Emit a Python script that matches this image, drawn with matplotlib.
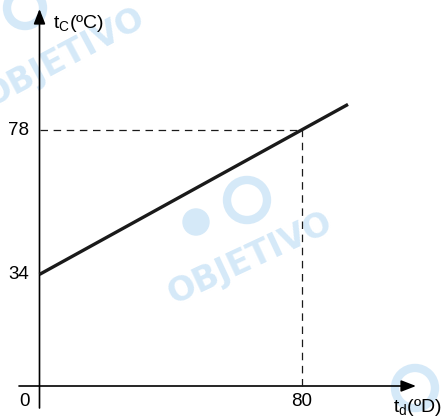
import matplotlib
matplotlib.use("Agg")
import matplotlib.pyplot as plt
from matplotlib.patches import Circle

plt.rcParams['font.family'] = ['Liberation Sans', 'DejaVu Sans']
plt.rcParams['mathtext.fontset'] = 'custom'
plt.rcParams['mathtext.rm'] = 'Liberation Sans'

# data
td_line = [0, 80, 94.2]
tc_line = [34, 78, 85.8]
mark_td = 80
mark_tc = 78
y_labels = [34, 78]
x_labels = [80]

W, H = 447, 417
fig = plt.figure(figsize=(W / 100, H / 100), dpi=100)
ax = fig.add_axes([0, 0, 1, 1])

# pixel -> data mapping (origin at px 39.5, 386)
sx, sy = 3.275, 3.282
ox, oy = 39.5, 386
ax.set_xlim(-ox / sx, (W - ox) / sx)
ax.set_ylim((oy - H) / sy, oy / sy)
ax.axis('off')

def px(x, y):
    return ((x - ox) / sx, (oy - y) / sy)

# watermark (light blue, behind everything)
wm = '#d5e9f8'
for (cx, cy, rot) in [(250, 258, 25), (64, 58, 28)]:
    ax.text(*px(cx, cy), "OBJETIVO", color=wm, fontsize=24, fontweight='bold',
            family='DejaVu Sans', rotation=rot, ha='center', va='center', zorder=0)
# logo rings / discs
for (cx, cy, r, ring) in [(247, 200, 20, True), (196, 222, 13, False),
                          (25, 8, 18, True), (415, 388, 20, True)]:
    if ring:
        c = Circle(px(cx, cy), r / sx, fill=False, ec=wm, lw=6, zorder=0)
    else:
        c = Circle(px(cx, cy), r / sx, color=wm, zorder=0)
    ax.add_patch(c)

# axes with arrows
ax.annotate('', xy=px(416, 386), xytext=px(19, 386),
            arrowprops=dict(arrowstyle='-|>,head_length=0.9,head_width=0.35',
                            color='black', lw=1.2, shrinkA=0, shrinkB=0), zorder=2)
ax.annotate('', xy=px(39.5, 9), xytext=px(39.5, 408),
            arrowprops=dict(arrowstyle='-|>,head_length=0.9,head_width=0.35',
                            color='black', lw=1.2, shrinkA=0, shrinkB=0), zorder=2)

# main line
ax.plot(td_line, tc_line, color='#1a1a1a', lw=2.4, solid_capstyle='butt', zorder=3)

# dashed guides
ax.plot([0, mark_td], [mark_tc, mark_tc], color='#1a1a1a', lw=0.9, dashes=(6, 4.5), zorder=2)
ax.plot([mark_td, mark_td], [0, mark_tc], color='#1a1a1a', lw=0.9, dashes=(6, 4.5), zorder=2)

# tick labels
for v in y_labels:
    ax.text(px(29, 0)[0], v, str(v), fontsize=13.5, ha='right', va='center', zorder=4)
for v in x_labels:
    ax.text(v, px(0, 402)[1], str(v), fontsize=13.5, ha='center', va='center', zorder=4)
ax.text(*px(24, 402), "0", fontsize=13.5, ha='center', va='center', zorder=4)

# axis titles
ax.text(*px(53, 24), r"t$_\mathregular{C}$(ºC)", fontsize=14, ha='left', va='center', zorder=4)
ax.text(*px(393, 408), r"t$_\mathregular{d}$(ºD)", fontsize=14, ha='left', va='center', zorder=4)

fig.savefig('out.png', dpi=100)
